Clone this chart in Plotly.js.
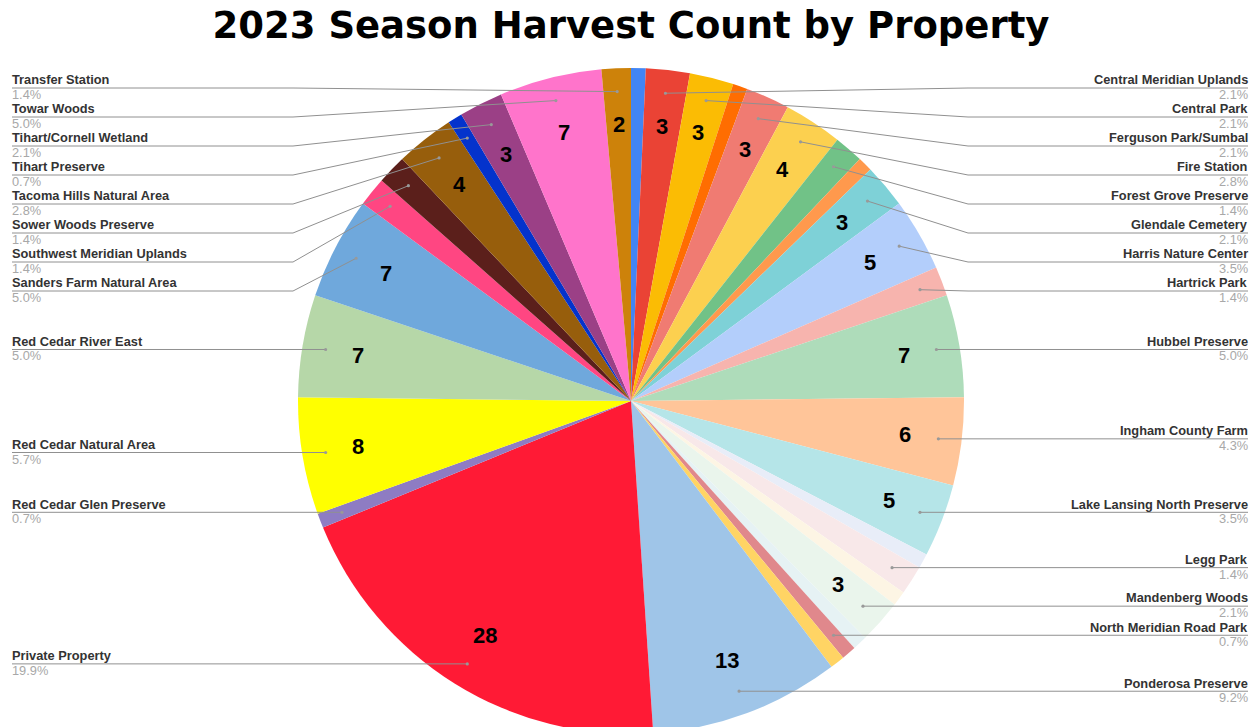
<!DOCTYPE html>
<html>
<head>
<meta charset="utf-8">
<script src="https://cdn.plot.ly/plotly-3.0.1.min.js"></script>
<style>
  html, body { margin: 0; padding: 0; overflow: hidden; background: #ffffff; }
  #chart { width: 1259px; height: 740px; }
</style>
</head>
<body>
<div id="chart"></div>
<script>
// ---------------- DATA (clockwise from 12 o'clock) ----------------
const labels = [
  "Unlabeled property 1",
  "Central Meridian Uplands",
  "Central Park",
  "Unlabeled property 2",
  "Ferguson Park/Sumbal",
  "Fire Station",
  "Forest Grove Preserve",
  "Unlabeled property 3",
  "Glendale Cemetery",
  "Harris Nature Center",
  "Hartrick Park",
  "Hubbel Preserve",
  "Ingham County Farm",
  "Lake Lansing North Preserve",
  "Unlabeled property 4",
  "Legg Park",
  "Unlabeled property 5",
  "Mandenberg Woods",
  "Unlabeled property 6",
  "North Meridian Road Park",
  "Unlabeled property 7",
  "Ponderosa Preserve",
  "Private Property",
  "Red Cedar Glen Preserve",
  "Red Cedar Natural Area",
  "Red Cedar River East",
  "Sanders Farm Natural Area",
  "Southwest Meridian Uplands",
  "Sower Woods Preserve",
  "Tacoma Hills Natural Area",
  "Tihart Preserve",
  "Tihart/Cornell Wetland",
  "Towar Woods",
  "Transfer Station"
];
const values = [
  1, 3, 3, 1, 3, 4, 2, 1, 3, 5, 2, 7, 6, 5, 1, 2, 1, 3, 1, 1, 1, 13,
  28, 1, 8, 7, 7, 2, 2, 4, 1, 3, 7, 2
];
const colors = [
  "#4285F4", "#EA4335", "#FBBC04", "#FF6D01", "#F07B72", "#FCD04F",
  "#71C287", "#FF994D", "#7ED1D7", "#B3CEFB", "#F7B4AE", "#AEDCBA",
  "#FFC599", "#B5E5E8", "#E8EDF8", "#F8E8E9", "#FDF5E4", "#EAF5EC",
  "#E6F2F4", "#E0888C", "#FFD464", "#9FC5E8", "#FF1A35", "#8E7CC3",
  "#FFFF00", "#B6D7A8", "#6FA8DC", "#FF4682", "#5B1F1B", "#975E0C",
  "#0433CC", "#9B4086", "#FF74CB", "#CD820A"
];
// slices whose names are not printed in the chart
const unlabeled = [
  "Unlabeled property 1", "Unlabeled property 2", "Unlabeled property 3",
  "Unlabeled property 4", "Unlabeled property 5", "Unlabeled property 6",
  "Unlabeled property 7"
];
// small slices that still carry their count inside
const smallWithCount = ["Transfer Station"];
const titleText = "2023 Season Harvest Count by Property";

// ---------------- LAYOUT CONSTANTS ----------------
const W = 1259, H = 740;
const CX = 631, CY = 401, R = 333;
const DOT_R = 0.93 * R, NUM_R = 0.83 * R;
const GAP = 29, TOP = 88, BOTTOM = 700;
const LEFT_TEXT_X = 11, RIGHT_TEXT_X = 1249;
const KINK_L = CX - R - 5, KINK_R = CX + R + 4;

const px = x => x / W;
const py = y => 1 - y / H;
const polar = (deg, rr) => {
  const t = deg * Math.PI / 180;
  return [CX + rr * Math.sin(t), CY - rr * Math.cos(t)];
};

const total = values.reduce((a, b) => a + b, 0);
let cum = 0;
const slices = labels.map((lab, i) => {
  const a0 = cum / total * 360;
  cum += values[i];
  const a1 = cum / total * 360;
  return { lab, v: values[i], mid: (a0 + a1) / 2 };
});

const annotations = [];
const shapes = [];

// inside counts
slices.forEach(s => {
  if (s.v >= 3 || smallWithCount.includes(s.lab)) {
    const [x, y] = polar(s.mid, NUM_R);
    annotations.push({
      x: px(x), y: py(y), xref: 'paper', yref: 'paper',
      xanchor: 'center', yanchor: 'middle', showarrow: false,
      text: String(s.v),
      font: { family: 'Liberation Sans, Arial, sans-serif', size: 22, color: '#000000', weight: 'bold' }
    });
  }
});

// outside labels with leader lines
function layoutSide(items) {
  items.sort((a, b) => a.dy - b.dy);
  const place = c => {
    const n = c.items.length;
    let start = c.mean - (n - 1) * GAP / 2;
    start = Math.max(start, TOP);
    start = Math.min(start, BOTTOM - (n - 1) * GAP);
    c.start = start;
  };
  let clusters = items.map(it => ({ items: [it], mean: it.dy }));
  clusters.forEach(place);
  let merged = true;
  while (merged) {
    merged = false;
    for (let i = 0; i < clusters.length - 1; i++) {
      const a = clusters[i], b = clusters[i + 1];
      const aEnd = a.start + (a.items.length - 1) * GAP;
      if (b.start < aEnd + GAP - 0.5) {
        const its = a.items.concat(b.items);
        const c = { items: its, mean: its.reduce((s, x) => s + x.dy, 0) / its.length };
        place(c);
        clusters.splice(i, 2, c);
        merged = true;
        break;
      }
    }
  }
  clusters.forEach(c => c.items.forEach((it, k) => { it.ly = c.start + k * GAP; }));
}

const sides = { left: [], right: [] };
slices.forEach(s => {
  if (unlabeled.includes(s.lab)) return;
  const [dx, dy] = polar(s.mid, DOT_R);
  const item = { ...s, dx, dy };
  (s.mid < 180 ? sides.right : sides.left).push(item);
});
layoutSide(sides.left);
layoutSide(sides.right);

const nameFont = { family: 'Liberation Sans, Arial, sans-serif', size: 12.8, color: '#333333', weight: 'bold' };
const pctFont = { family: 'Liberation Sans, Arial, sans-serif', size: 12.8, color: '#a8a8a8' };

['left', 'right'].forEach(side => {
  sides[side].forEach(it => {
    const isL = side === 'left';
    const tx = isL ? LEFT_TEXT_X : RIGHT_TEXT_X;
    const kx = isL ? KINK_L : KINK_R;
    const endX = isL ? 12 : 1248;
    const path = `M ${px(it.dx)} ${py(it.dy)} L ${px(kx)} ${py(it.ly)} L ${px(endX)} ${py(it.ly)}`;
    shapes.push({ type: 'path', xref: 'paper', yref: 'paper', path,
      line: { color: '#909090', width: 1 } });
    shapes.push({ type: 'circle', xref: 'paper', yref: 'paper',
      x0: px(it.dx - 1.6), x1: px(it.dx + 1.6), y0: py(it.dy + 1.6), y1: py(it.dy - 1.6),
      fillcolor: '#999999', line: { width: 0 } });
    annotations.push({
      x: px(tx), y: py(it.ly - 8.2), xref: 'paper', yref: 'paper',
      xanchor: isL ? 'left' : 'right', yanchor: 'middle', showarrow: false,
      borderpad: 0,
      text: it.lab, font: nameFont
    });
    annotations.push({
      x: px(tx), y: py(it.ly + 6.5), xref: 'paper', yref: 'paper',
      xanchor: isL ? 'left' : 'right', yanchor: 'middle', showarrow: false,
      borderpad: 0,
      text: (it.v / total * 100).toFixed(1) + '%', font: pctFont
    });
  });
});

const trace = {
  type: 'pie',
  labels: labels,
  values: values,
  sort: false,
  direction: 'clockwise',
  rotation: 0,
  textinfo: 'none',
  marker: { colors: colors, line: { width: 0 } },
  domain: { x: [px(CX - R), px(CX + R)], y: [py(CY + R), py(CY - R)] },
  hovertemplate: '%{label}<br>%{value} (%{percent})<extra></extra>'
};

const layout = {
  width: W, height: H,
  margin: { l: 0, r: 0, t: 0, b: 0 },
  paper_bgcolor: '#ffffff',
  showlegend: false,
  title: {
    text: titleText,
    x: px(631), xanchor: 'center',
    y: 1 - 25 / H, yref: 'container', yanchor: 'middle',
    font: { family: 'DejaVu Sans, sans-serif', size: 37, color: '#000000', weight: 'bold' }
  },
  annotations: annotations,
  shapes: shapes
};

Plotly.newPlot('chart', [trace], layout, { displayModeBar: false, staticPlot: true });
</script>
</body>
</html>
